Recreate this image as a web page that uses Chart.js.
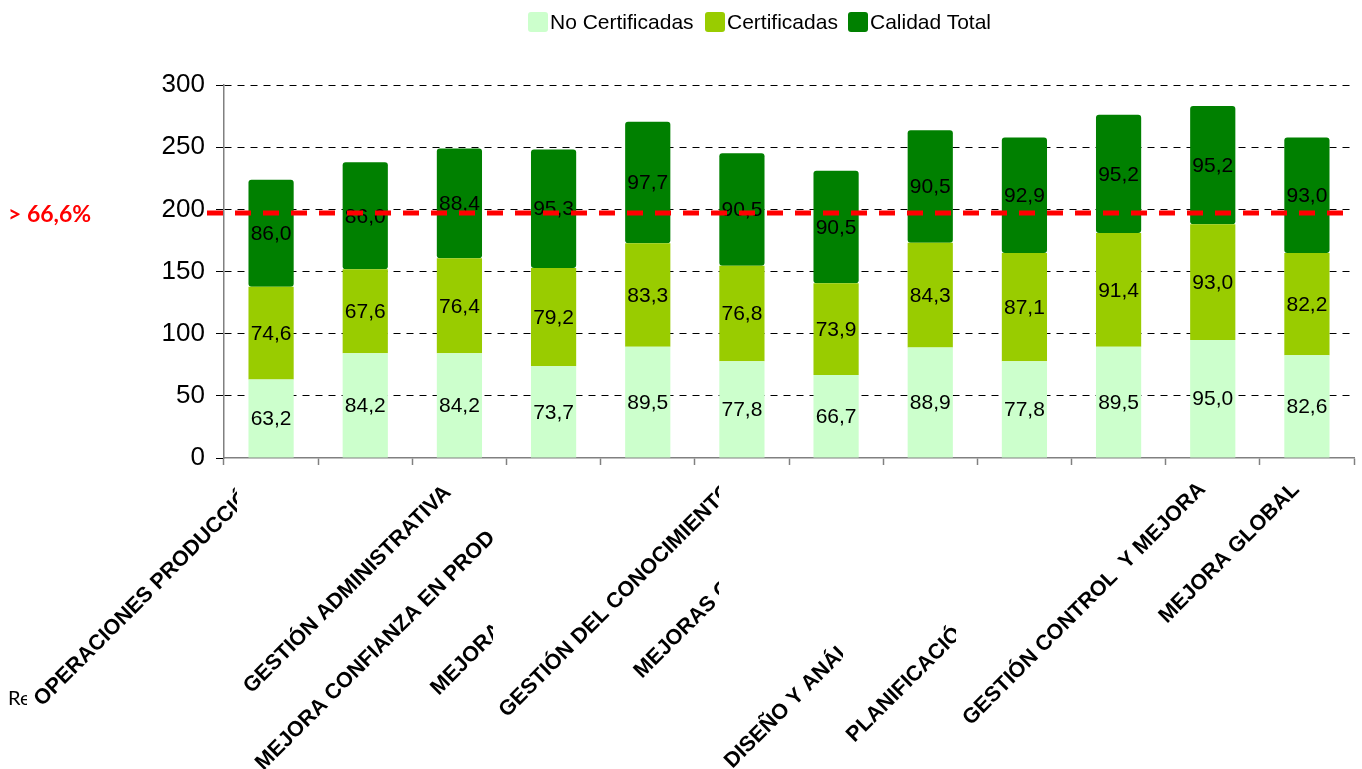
<!DOCTYPE html>
<html>
<head>
<meta charset="utf-8">
<script src="https://cdn.jsdelivr.net/npm/chart.js@4.4.1/dist/chart.umd.min.js"></script>
<style>
  html, body { margin: 0; padding: 0; background: #ffffff; }
  #wrap { position: relative; width: 1362px; height: 769px; overflow: hidden; }
  #c { position: absolute; left: 0; top: 0; }
  .lg { position: absolute; top: 11px; height: 22px; display: flex; align-items: center;
        font-family: "Liberation Sans", Arial, sans-serif; font-size: 21px; color: #000; white-space: nowrap; }
  .lg i { display: inline-block; width: 20px; height: 20px; border-radius: 3px; margin-right: 2px; }
</style>
</head>
<body>
<div id="wrap">
  <canvas id="c" width="1362" height="769"></canvas>
  <div id="legend"></div>
</div>
<script>
// ---- data ----
const categories = [
  "OPERACIONES PRODUCCIÓ", "", "GESTIÓN ADMINISTRATIVA", "MEJORA CONFIANZA EN PROD",
  "MEJORA", "GESTIÓN DEL CONOCIMIENTO", "MEJORAS C", "", "DISEÑO Y ANÁL",
  "PLANIFICACIÓ", "GESTIÓN CONTROL  Y MEJORA", "MEJORA GLOBAL"
];
const seriesNames = ["No Certificadas", "Certificadas", "Calidad Total"];
const noCertificadas = [63.2, 84.2, 84.2, 73.7, 89.5, 77.8, 66.7, 88.9, 77.8, 89.5, 95.0, 82.6];
const certificadas   = [74.6, 67.6, 76.4, 79.2, 83.3, 76.8, 73.9, 84.3, 87.1, 91.4, 93.0, 82.2];
const calidadTotal   = [86.0, 86.0, 88.4, 95.3, 97.7, 90.5, 90.5, 90.5, 92.9, 95.2, 95.2, 93.0];
const yTicks = [0, 50, 100, 150, 200, 250, 300];
const thresholdValue = 197;
const thresholdLabel = "> 66,6%";
const sideNote = "Re";

const colors = ["#CCFFCC", "#99CC00", "#008000"];
const seriesValues = [noCertificadas, certificadas, calidadTotal];

// ---- legend (HTML) ----
const legendLeft = [528, 705, 848];
const legendEl = document.getElementById('legend');
seriesNames.forEach((n, k) => {
  const d = document.createElement('div');
  d.className = 'lg';
  d.style.left = legendLeft[k] + 'px';
  d.innerHTML = '<i style="background:' + colors[k] + '"></i><span></span>';
  d.querySelector('span').textContent = n;
  legendEl.appendChild(d);
});

const fmt = v => v.toFixed(1).replace('.', ',');

// value labels inside segments
const valueLabels = {
  id: 'valueLabels',
  afterDatasetsDraw(chart) {
    const ctx = chart.ctx;
    ctx.save();
    ctx.font = '21px "Liberation Sans", Arial, sans-serif';
    ctx.fillStyle = '#000';
    ctx.textAlign = 'center';
    ctx.textBaseline = 'middle';
    chart.data.datasets.forEach((ds, di) => {
      const meta = chart.getDatasetMeta(di);
      meta.data.forEach((el, i) => {
        const p = el.getProps(['x', 'y', 'base'], true);
        ctx.fillText(fmt(ds.data[i]), p.x, (p.y + p.base) / 2 + 1);
      });
    });
    ctx.restore();
  }
};

// threshold dashed line + annotations + rotated category labels
const LABEL_LAYOUT = [
  {dx: -229, dy: 249, clip: -34},
  null,
  {dx: -208, dy: 236, clip: null},
  {dx: -290, dy: 313, clip: -60.5},
  {dx: -209, dy: 238, clip: -154.7},
  {dx: -235, dy: 260, clip: -23},
  {dx: -194, dy: 221, clip: -117},
  null,
  {dx: -292, dy: 311, clip: -181.5},
  {dx: -264, dy: 285, clip: -162.7},
  {dx: -242, dy: 268, clip: null},
  {dx: -140, dy: 166, clip: null}
];

const overlay = {
  id: 'overlay',
  afterDraw(chart) {
    const ctx = chart.ctx;
    const xs = chart.scales.x, ys = chart.scales.y;
    const area = chart.chartArea;
    // threshold line
    const ty = ys.getPixelForValue(thresholdValue);
    ctx.save();
    ctx.strokeStyle = '#FF0000';
    ctx.lineWidth = 5;
    ctx.setLineDash([16, 12]);
    ctx.beginPath();
    ctx.moveTo(area.left - 17, ty);
    ctx.lineTo(area.right, ty);
    ctx.stroke();
    ctx.restore();

    // threshold label
    ctx.save();
    ctx.fillStyle = '#FF0000';
    ctx.font = 'bold 23px Lato, "Open Sans", sans-serif';
    ctx.textAlign = 'left';
    ctx.textBaseline = 'middle';
    ctx.fillText(thresholdLabel, 8, ty + 2);
    ctx.restore();

    // side note (clipped)
    ctx.save();
    ctx.beginPath();
    ctx.rect(0, 600, 27, 169);
    ctx.clip();
    ctx.fillStyle = '#000';
    ctx.font = '20px Lato, "Open Sans", sans-serif';
    ctx.textBaseline = 'alphabetic';
    ctx.fillText(sideNote, 8, 705);
    ctx.restore();

    // category labels
    const base = area.bottom;
    categories.forEach((txt, i) => {
      const L = LABEL_LAYOUT[i];
      if (!txt || !L) return;
      const cx = xs.getPixelForValue(i);
      ctx.save();
      if (L.clip !== null) {
        ctx.beginPath();
        ctx.rect(0, base, cx + L.clip, chart.height - base);
        ctx.clip();
      }
      ctx.translate(cx + L.dx, base + L.dy);
      ctx.rotate(-Math.PI / 4);
      ctx.fillStyle = '#000';
      ctx.font = 'bold 21.5px "Liberation Sans", Arial, sans-serif';
      ctx.textAlign = 'left';
      ctx.textBaseline = 'alphabetic';
      ctx.fillText(txt, 0, 0);
      ctx.restore();
    });
  }
};

new Chart(document.getElementById('c'), {
  type: 'bar',
  data: {
    labels: categories,
    datasets: seriesNames.map((n, k) => ({
      label: n,
      data: seriesValues[k],
      backgroundColor: colors[k],
      borderWidth: 0,
      borderRadius: 3,
      borderSkipped: false,
      barPercentage: 0.48,
      categoryPercentage: 1.0
    }))
  },
  options: {
    responsive: false,
    animation: false,
    devicePixelRatio: 1,
    layout: { padding: { top: 85, right: 8, left: 0, bottom: 0 } },
    plugins: { legend: { display: false }, tooltip: { enabled: false } },
    scales: {
      x: {
        stacked: true,
        ticks: { display: false },
        grid: { display: true, drawOnChartArea: false, drawTicks: true, tickLength: 7,
                tickColor: '#808080', tickWidth: 1.5, offset: true },
        border: { display: true, color: '#808080', width: 1.5 },
        afterFit(s) { s.height = 311; }
      },
      y: {
        stacked: true,
        min: 0, max: 300,
        afterBuildTicks(s) { s.ticks = yTicks.map(v => ({ value: v })); },
        ticks: {
          color: '#000',
          padding: 11,
          font: { family: '"Liberation Sans", Arial, sans-serif', size: 26 }
        },
        grid: {
          color: c => (c.tick && c.tick.value === 0) ? 'rgba(0,0,0,0)' : '#000',
          lineWidth: 1,
          drawTicks: true,
          tickLength: 8,
          tickColor: '#000',
          tickWidth: 1
        },
        border: { display: true, color: '#808080', width: 1.5, dash: [7, 6] },
        afterFit(s) { s.width = 224; }
      }
    }
  },
  plugins: [valueLabels, overlay]
});
</script>
</body>
</html>
